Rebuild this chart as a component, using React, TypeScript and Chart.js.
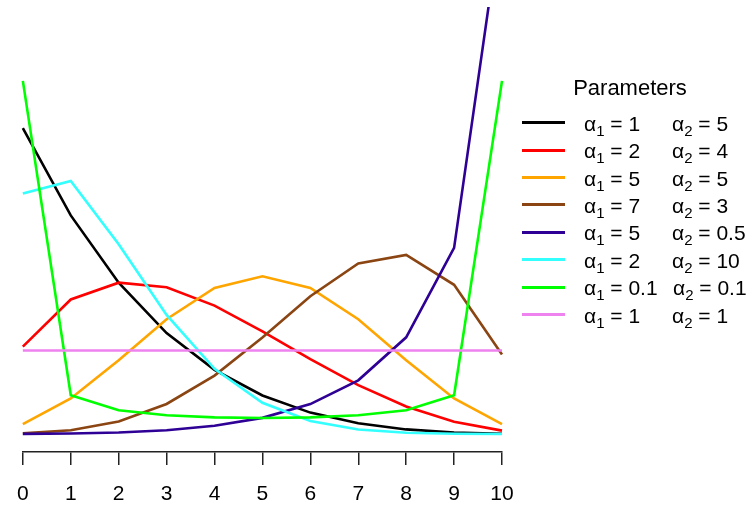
import React, { useEffect, useRef } from "react";
import { Chart, registerables } from "chart.js";

Chart.register(...registerables);

const K = [0, 1, 2, 3, 4, 5, 6, 7, 8, 9, 10];
const xTickLabels = ["0", "1", "2", "3", "4", "5", "6", "7", "8", "9", "10"];

const seriesA1B5 = [0.3333, 0.2381, 0.1648, 0.1099, 0.0699, 0.04196, 0.02331, 0.01166, 0.004995, 0.001665, 0.000333];
const seriesA2B4 = [0.09524, 0.14652, 0.16484, 0.15984, 0.13986, 0.11189, 0.08159, 0.05328, 0.02997, 0.01332, 0.003663];
const seriesA5B5 = [0.010836, 0.0387, 0.08038, 0.12503, 0.15913, 0.17186, 0.15913, 0.12503, 0.08038, 0.0387, 0.010836];
const seriesA7B3 = [0.0007145, 0.0041677, 0.01364, 0.032735, 0.063652, 0.10502, 0.15004, 0.18576, 0.19505, 0.16254, 0.086686];
const seriesA5B05 = [0.0001, 0.000526, 0.001671, 0.004159, 0.008958, 0.01759, 0.032574, 0.058499, 0.1053, 0.2028, 0.56783];
const seriesA2B10 = [0.2619, 0.27569, 0.20677, 0.12974, 0.070951, 0.034056, 0.01419, 0.00499, 0.001403, 0.000284, 0.0000312];
const seriesA01B01 = [0.38468, 0.042272, 0.025833, 0.020375, 0.01812, 0.017481, 0.01812, 0.020375, 0.025833, 0.042272, 0.38468];
const seriesA1B1 = [0.090909, 0.090909, 0.090909, 0.090909, 0.090909, 0.090909, 0.090909, 0.090909, 0.090909, 0.090909, 0.090909];

const alpha1Labels = ["1", "2", "5", "7", "5", "2", "0.1", "1"];
const alpha2Labels = ["5", "4", "5", "3", "0.5", "10", "0.1", "1"];
const seriesValues = [seriesA1B5, seriesA2B4, seriesA5B5, seriesA7B3, seriesA5B05, seriesA2B10, seriesA01B01, seriesA1B1];
const seriesColors = ["#000000", "#FF0000", "#FFA500", "#8B4513", "#2E0095", "#33FFFF", "#00FF00", "#EE82EE"];

const legendTitle = "Parameters";
const FONT = "'Liberation Sans', Arial, Helvetica, sans-serif";

export default function App() {
  const canvasRef = useRef<HTMLCanvasElement | null>(null);

  useEffect(() => {
    document.body.style.margin = "0";
    const canvas = canvasRef.current;
    if (!canvas) return;
    const n = seriesValues.length;
    const chart = new Chart(canvas, {
      type: "line",
      data: {
        datasets: seriesValues.map((vals, i) => ({
          label: `a1=${alpha1Labels[i]} a2=${alpha2Labels[i]}`,
          data: K.map((k, j) => ({ x: k, y: vals[j] })),
          borderColor: seriesColors[i],
          backgroundColor: seriesColors[i],
          borderWidth: 2.6,
          pointRadius: 0,
          tension: 0,
          fill: false,
          order: n - i,
          clip: { left: 6, right: 6, top: 0, bottom: 6 } as any,
        })),
      },
      options: {
        responsive: false,
        animation: false,
        devicePixelRatio: 1,
        layout: { padding: { left: 11, right: 248, top: 7, bottom: 0 } },
        plugins: {
          legend: { display: false },
          tooltip: { enabled: false },
          title: { display: false },
        },
        scales: {
          x: {
            type: "linear",
            min: 0,
            max: 10,
            afterFit: (scale: any) => {
              scale.height = 55;
            },
            afterBuildTicks: (scale: any) => {
              scale.ticks = K.map((k) => ({ value: k }));
            },
            ticks: {
              autoSkip: false,
              maxRotation: 0,
              padding: 17,
              color: "#000000",
              font: { family: FONT, size: 21 },
              callback: (v: any) => xTickLabels[K.indexOf(Number(v))] ?? "",
            },
            grid: {
              drawOnChartArea: false,
              drawTicks: true,
              tickLength: 13,
              color: "#222222",
              lineWidth: 1.5,
            },
            border: { display: true, color: "#222222", width: 1.5 },
          },
          y: {
            type: "linear",
            display: false,
            min: -0.0196,
            max: 0.4651,
          },
        },
      },
    });
    return () => chart.destroy();
  }, []);

  const rowY0 = 122.7;
  const rowDy = 27.4;
  const txt: React.CSSProperties = {
    position: "absolute",
    transform: "translateY(-50%)",
    fontSize: 21,
    lineHeight: 1,
    whiteSpace: "nowrap",
    color: "#000",
  };
  const sub: React.CSSProperties = { fontSize: 15, position: "relative", top: 5 };

  return (
    <div style={{ position: "relative", width: 750, height: 507, background: "#fff", fontFamily: FONT }}>
      <canvas ref={canvasRef} width={750} height={507} style={{ position: "absolute", left: 0, top: 0 }} />
      <div
        style={{
          position: "absolute",
          left: 630,
          top: 88,
          transform: "translate(-50%, -50%)",
          fontSize: 22,
          lineHeight: 1,
          whiteSpace: "nowrap",
          color: "#000",
        }}
      >
        {legendTitle}
      </div>
      {seriesColors.map((c, i) => {
        const cy = rowY0 + rowDy * i;
        return (
          <React.Fragment key={i}>
            <div
              style={{
                position: "absolute",
                left: 522,
                top: cy - 1.5,
                width: 43,
                height: 3,
                background: c,
              }}
            />
            <div style={{ ...txt, left: 584, top: cy }}>
              α<span style={sub}>1</span> = {alpha1Labels[i]}
            </div>
            <div style={{ ...txt, left: i === 6 ? 673 : 672, top: cy }}>
              α<span style={sub}>2</span> = {alpha2Labels[i]}
            </div>
          </React.Fragment>
        );
      })}
    </div>
  );
}
